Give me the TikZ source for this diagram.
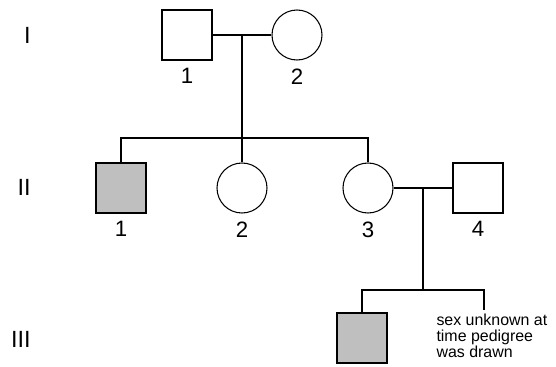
\documentclass[tikz,border=0pt]{standalone}
\usepackage{fontspec}
\setmainfont{Liberation Sans}

\begin{document}
\begin{tikzpicture}[x=0.03cm,y=-0.03cm,
    every path/.style={line width=0.9pt},
    male/.style={draw,rectangle,minimum size=1.5cm,inner sep=0pt},
    female/.style={draw,circle,minimum size=1.5cm,inner sep=0pt},
    affected/.style={fill=black!25},
    idnum/.style={font=\fontsize{19}{21}\selectfont},
    gen/.style={font=\fontsize{20}{22}\selectfont,anchor=east}]
  \useasboundingbox (0,0) rectangle (556,367);
  % generations
  \node[gen] (genI) at (35,35) {I};
  \node[gen] (genII) at (35,187) {II};
  \node[gen] (genIII) at (35,339) {III};
  % generation I
  \node[male] (I1) at (187,35) {};
  \node[female] (I2) at (297,35) {};
  \coordinate (mI) at (242,35);
  \coordinate (sII) at (242,138);
  % generation II
  \node[male,affected] (II1) at (121,188) {};
  \node[female] (II2) at (242,188) {};
  \node[female] (II3) at (368,188) {};
  \node[male] (II4) at (478,188) {};
  \coordinate (mII) at (423,188);
  \coordinate (sIII) at (423,290);
  % generation III
  \node[male,affected] (III1) at (362,338) {};
  \coordinate (III2) at (484,310);
  % drawings
  \draw (I1) -- (I2);
  \draw (mI) -- (sII);
  \draw (II1) |- (sII) -| (II3);
  \draw (sII) -- (II2);
  \draw (II3) -- (II4);
  \draw (mII) -- (sIII);
  \draw (III1) |- (sIII) -| (III2);
  % labelling
  \node[idnum,below=3pt] at (I1.south) {1};
  \node[idnum,below=3pt] at (I2.south) {2};
  \node[idnum,below=3pt] at (II1.south) {1};
  \node[idnum,below=3pt] at (II2.south) {2};
  \node[idnum,below=3pt] at (II3.south) {3};
  \node[idnum,below=3pt] at (II4.south) {4};
  \node[anchor=north west,align=left,inner sep=0pt,
    font=\fontsize{13.6}{14}\selectfont] (note) at (436,313)
    {sex unknown at\\time pedigree\\was drawn};
\end{tikzpicture}
\end{document}
